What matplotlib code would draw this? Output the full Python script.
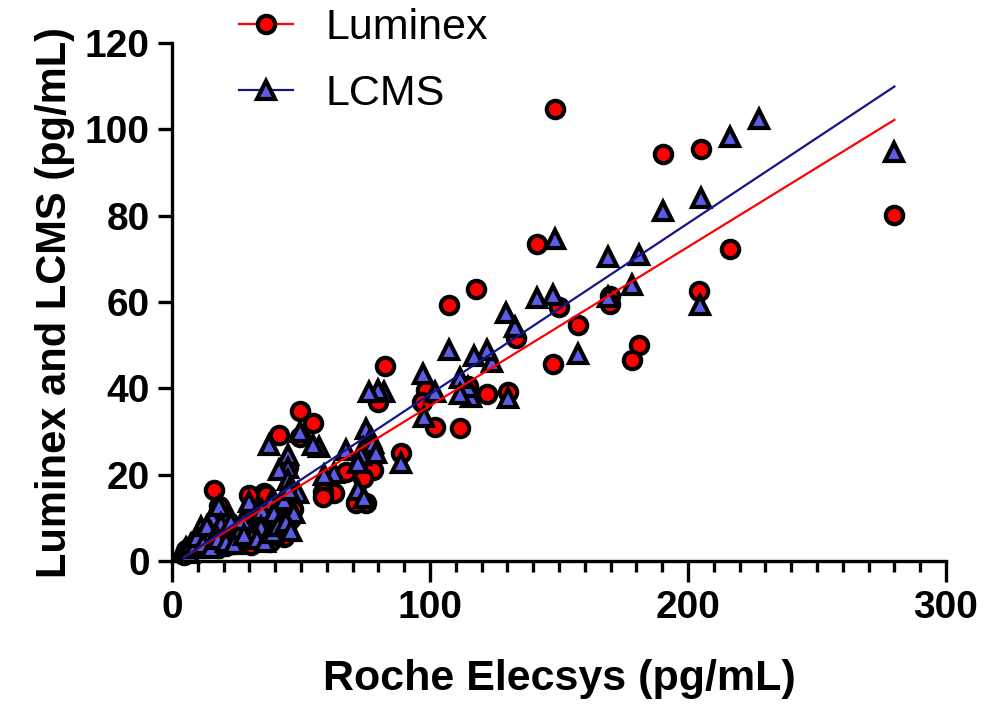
import numpy as np
import matplotlib.pyplot as plt
from matplotlib.lines import Line2D
from matplotlib.ticker import MultipleLocator

plt.rcParams['font.family'] = ['Liberation Sans', 'DejaVu Sans']

# Luminex (red circles)
lum_x = [280, 216.4, 205, 190.5, 204.2, 181, 178.3, 169.8, 169.8, 157.4, 150, 147.8,
         148.5, 141.6, 133.5, 130.4, 122.2, 118, 114.9, 111.8, 107.2, 102.1, 98.3, 97,
         88.6, 82.4, 80, 78.1, 77.8, 75, 73.9, 71.2, 67.3, 62.7, 58.4, 58.4, 54.5, 49.5,
         49.5, 41.4, 44.9, 35.6, 36.4, 29.8, 43.3, 30.6, 16.2, 18.2,
         4.6, 5.5, 6.5, 7.5, 8.5, 9.5, 10.5, 12, 13, 14.5, 16, 17.5, 19, 20.5, 22, 23.5,
         25, 26.5, 28, 31, 33, 35, 38, 40, 42, 45,
         18, 21, 24, 26, 28, 34, 36, 38, 41, 43, 46, 47]
lum_y = [80.1, 72.2, 95.4, 94.4, 62.6, 50, 46.5, 61.3, 59.5, 54.6, 58.8, 45.6,
         104.7, 73.4, 51.7, 39.1, 38.8, 63, 40.5, 30.7, 59.2, 31, 39.6, 36.8,
         25, 45.1, 36.8, 24.6, 21, 13.4, 19.2, 13.4, 20.6, 15.8, 16, 14.8, 32, 34.7,
         28.7, 29.2, 21.8, 15.8, 15.3, 15.3, 5.6, 3.7, 16.4, 12.7,
         1.5, 2.5, 2, 3.5, 2.8, 4, 3.2, 4.5, 3.8, 5, 4.2, 5.5, 6, 4.8, 7, 5.5,
         6.5, 8, 6.2, 9, 7.5, 10, 8.5, 12, 10, 9,
         3, 3.5, 4, 4.5, 5, 5, 6.5, 4.5, 7, 8, 10, 12]

# LCMS (blue triangles)
lcms_x = [280, 227.5, 216.2, 205, 204.6, 190.5, 181, 178.3, 169, 169, 157.4, 148.5,
          147.8, 141.6, 133, 129.6, 124.2, 122.2, 117, 130.4, 115.7, 114.9, 111.8, 111.8,
          107.2, 102, 97.1, 97.5, 88.6, 82, 80, 76.2, 75, 77, 73.9, 77.8, 67.3, 73.1,
          72, 78.9, 62.7, 58.8, 72, 74.3, 56.9, 54.5, 49.5, 37.5, 44.9, 44.9, 41.4,
          44.9, 48.7, 42.9, 38.3, 39.5, 43.3, 47.2, 45.3, 29.8, 32.9, 34.8, 29.8, 34.4,
          37.5, 39.5, 22, 24.8, 15.5, 11.2, 10.4, 15.1, 18.2,
          4.6, 5.5, 6.5, 7.5, 8.5, 9.5, 12, 13.5, 17, 19, 20.5, 23, 26, 27.5, 31,
          15, 18, 21, 24, 28, 33, 36, 39, 41, 44, 46]
lcms_y = [94.7, 102.5, 98.2, 84.2, 59.3, 81, 70.8, 64, 70.4, 61.2, 48, 74.5,
          61.6, 60.9, 54.2, 57.4, 46.1, 48.9, 47.5, 37.8, 38, 40.3, 42.4, 38.7,
          48.9, 39.1, 43.3, 33.4, 22.7, 39.1, 39.6, 39.1, 30.6, 28.5, 26.2, 27.3, 25.7, 24.6,
          22.7, 25, 20.4, 19.9, 16.4, 14.6, 26.4, 26.9, 29.9, 26.9, 24.6, 21.5, 21.1,
          18.8, 15.8, 14.6, 13.7, 11.4, 14.1, 11.1, 16.4, 13.7, 11.1, 11.8, 8.3, 7.9,
          6, 11.1, 10.7, 7.9, 10.2, 7.9, 4.9, 6.5, 12.7,
          2, 3, 1.8, 4, 3, 5.5, 4, 8, 6, 8.5, 5, 9, 6.5, 9.5, 5.5,
          3, 5, 4.5, 4, 6, 5, 4.5, 6.5, 8, 9, 7]

# linear fits (slope, intercept)
lum_fit = (0.368, -0.85)
lcms_fit = (0.396, -0.97)

red = '#ff0000'
blue = '#5b5be8'
navy = '#14148c'

fig = plt.figure(figsize=(9.87, 7.04), dpi=100)
ax = fig.add_axes([172/987, 1 - 561/704, (946 - 172)/987, (561 - 43)/704])

ms = 12.5
mew = 3
ax.plot(lum_x, lum_y, 'o', ms=ms, mfc=red, mec='black', mew=mew, zorder=3, clip_on=False)
ax.plot(lcms_x, lcms_y, '^', ms=ms, mfc=blue, mec='black', mew=mew, zorder=4, clip_on=False)

xs = np.array([min(lum_x), max(lum_x)])
ax.plot(xs, lum_fit[0]*xs + lum_fit[1], color=red, lw=1.6, zorder=5)
xs = np.array([min(lcms_x), max(lcms_x)])
ax.plot(xs, lcms_fit[0]*xs + lcms_fit[1], color=navy, lw=1.6, zorder=6)

ax.set_xlim(0, 300)
ax.set_ylim(0, 120)
ax.xaxis.set_major_locator(MultipleLocator(100))
ax.xaxis.set_minor_locator(MultipleLocator(10))
ax.yaxis.set_major_locator(MultipleLocator(20))

for s in ['top', 'right']:
    ax.spines[s].set_visible(False)
for s in ['left', 'bottom']:
    ax.spines[s].set_linewidth(2.4)

ax.tick_params(axis='x', which='major', length=15, width=2.4, pad=6, labelsize=28)
ax.tick_params(axis='x', which='minor', length=8, width=2.4)
ax.tick_params(axis='y', which='major', length=10, width=2.4, pad=6, labelsize=28)
for lab in ax.get_xticklabels() + ax.get_yticklabels():
    lab.set_fontweight('bold')

ax.set_xlabel('Roche Elecsys (pg/mL)', fontsize=31, fontweight='bold')
ax.set_ylabel('Luminex and LCMS (pg/mL)', fontsize=30, fontweight='bold')
ax.xaxis.set_label_coords(0.5, -0.19)
ax.yaxis.set_label_coords(-0.125, 0.5)

handles = [
    Line2D([], [], color=red, lw=1.6, marker='o', ms=ms, mfc=red, mec='black', mew=mew),
    Line2D([], [], color=navy, lw=1.6, marker='^', ms=ms, mfc=blue, mec='black', mew=mew),
]
fig.legend(handles, ['Luminex', 'LCMS'], loc='upper left',
           bbox_to_anchor=(239/987, 1 - 8/704), frameon=False, fontsize=31,
           borderpad=0, borderaxespad=0, handlelength=1.25, handletextpad=0.75,
           labelspacing=0.6)

plt.savefig('out.png', dpi=100)
